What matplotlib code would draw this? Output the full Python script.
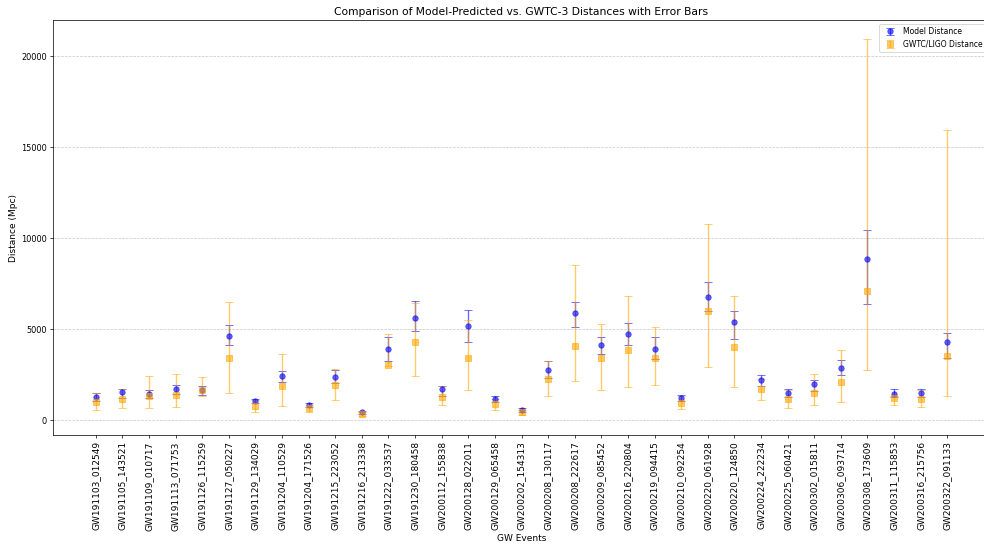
import matplotlib
matplotlib.use("Agg")
import matplotlib.pyplot as plt
import numpy as np

# GW events (x axis)
events = ["GW191103_012549", "GW191105_143521", "GW191109_010717", "GW191113_071753",
          "GW191126_115259", "GW191127_050227", "GW191129_134029", "GW191204_110529",
          "GW191204_171526", "GW191215_223052", "GW191216_213338", "GW191222_033537",
          "GW191230_180458", "GW200112_155838", "GW200128_022011", "GW200129_065458",
          "GW200202_154313", "GW200208_130117", "GW200208_222617", "GW200209_085452",
          "GW200216_220804", "GW200219_094415", "GW200210_092254", "GW200220_061928",
          "GW200220_124850", "GW200224_222234", "GW200225_060421", "GW200302_015811",
          "GW200306_093714", "GW200308_173609", "GW200311_115853", "GW200316_215756",
          "GW200322_091133"]

# model distances (Mpc) and their lower / upper bounds
model_dist = [1240, 1560, 1440, 1690, 1650, 4620, 1070, 2445, 845, 2390, 425, 3910,
              5625, 1710, 5170, 1140, 550, 2750, 5890, 4100, 4710, 3910, 1200, 6745,
              5385, 2175, 1500, 1990, 2870, 8855, 1455, 1465, 4310]
model_low = [1030, 1195, 1195, 1452, 1360, 4100, 919, 2114, 717, 2040, 331, 3240,
             4893, 1342, 4305, 974, 441, 2300, 5115, 3615, 4120, 3340, 1040, 6012,
             4440, 1853, 1275, 1605, 2450, 6360, 1250, 1250, 3405]
model_high = [1470, 1709, 1636, 1948, 1893, 5218, 1158, 2720, 919, 2739, 515, 4560,
              6525, 1893, 6075, 1342, 643, 3258, 6490, 4580, 5325, 4562, 1360, 7570,
              6020, 2468, 1700, 2203, 3276, 10468, 1700, 1700, 4781]

# GWTC / LIGO distances (Mpc) and their lower / upper bounds
gwtc_dist = [1000, 1160, 1340, 1360, 1650, 3405, 790, 1893, 643, 1911, 312, 3000,
             4315, 1268, 3420, 864, 441, 2240, 4095, 3415, 3828, 3415, 926, 6020,
             4000, 1707, 1166, 1493, 2110, 7110, 1200, 1157, 3525]
gwtc_low = [533, 680, 643, 735, 1342, 1500, 460, 790, 460, 1084, 220, 2950,
            2415, 809, 1640, 551, 276, 1340, 2120, 1625, 1808, 1900, 607, 2910,
            1808, 1092, 650, 808, 1017, 2735, 808, 706, 1312]
gwtc_high = [1489, 1700, 2445, 2536, 2371, 6490, 1121, 3621, 809, 2830, 460, 4727,
             6435, 1850, 5480, 1180, 560, 3240, 8515, 5307, 6820, 5096, 1300, 10780,
             6820, 2240, 1670, 2514, 3826, 20957, 1330, 1650, 15968]

x = np.arange(len(events))
md = np.array(model_dist)
gd = np.array(gwtc_dist)
model_err = [md - np.array(model_low), np.array(model_high) - md]
gwtc_err = [gd - np.array(gwtc_low), np.array(gwtc_high) - gd]

dpi = 64.6
fig, ax = plt.subplots(figsize=(984 / dpi, 547 / dpi), dpi=dpi)
ax.errorbar(x, md, yerr=model_err, fmt='o', color='blue', alpha=0.6, capsize=5,
            label='Model Distance')
ax.errorbar(x, gd, yerr=gwtc_err, fmt='s', color='orange', alpha=0.6, capsize=5,
            label='GWTC/LIGO Distance')

ax.set_xticks(x)
ax.set_xticklabels(events, rotation=90, fontsize=10)
ax.tick_params(axis='y', labelsize=9)
ax.set_xlabel('GW Events')
ax.set_ylabel('Distance (Mpc)')
ax.set_title('Comparison of Model-Predicted vs. GWTC-3 Distances with Error Bars')
ax.grid(axis='y', linestyle='--', alpha=0.7)
ax.legend(loc='upper right', fontsize=8.5)

plt.subplots_adjust(left=0.054, right=1.006, bottom=0.205, top=0.963)
fig.savefig('out.png', dpi=dpi)
